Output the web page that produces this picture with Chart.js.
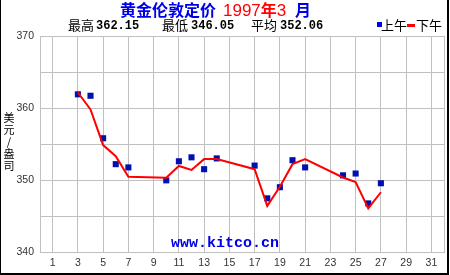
<!DOCTYPE html>
<html>
<head>
<meta charset="utf-8">
<script src="https://cdn.jsdelivr.net/npm/chart.js@4.4.0/dist/chart.umd.min.js"></script>
<style>
  body { margin: 0; background: #fff; }
  #wrap { position: relative; width: 450px; height: 275px; overflow: hidden; }
  #wrap canvas { position: absolute; left: 0; top: 0; }
  .t { position: absolute; white-space: nowrap; font-family: "Noto Sans CJK SC", sans-serif; }
  .num { font-family: "Liberation Mono", monospace; font-weight: bold; font-size: 12px; }
</style>
</head>
<body>
<div id="wrap">
  <canvas id="gold" width="450" height="275"></canvas>

  <div class="t" style="left:120px;top:0px;font-size:16px;line-height:18px;font-weight:bold;color:#0000e8">黄金伦敦定价</div>
  <div class="t" style="left:223px;top:0px;font-size:16px;line-height:18px;font-weight:bold;color:#ff0000"><span style="font-family:'Liberation Sans';font-weight:normal;font-size:17px">1997</span>年<span style="font-family:'Liberation Sans';font-weight:normal;font-size:17px">3</span></div>
  <div class="t" style="left:295px;top:0px;font-size:16px;line-height:18px;font-weight:bold;color:#0000e8">月</div>

  <div class="t" style="left:68px;top:17px;font-size:13px;line-height:16px">最高</div>
  <div class="t num" style="left:96px;top:18px;line-height:16px">362.15</div>
  <div class="t" style="left:162px;top:17px;font-size:13px;line-height:16px">最低</div>
  <div class="t num" style="left:191px;top:18px;line-height:16px">346.05</div>
  <div class="t" style="left:251px;top:17px;font-size:13px;line-height:16px">平均</div>
  <div class="t num" style="left:280px;top:18px;line-height:16px">352.06</div>

  <div style="position:absolute;left:377px;top:22px;width:5px;height:5px;background:#0000e8"></div>
  <div class="t" style="left:381px;top:17px;font-size:13px;line-height:16px">上午</div>
  <div style="position:absolute;left:407px;top:24px;width:8px;height:3px;background:#ff0000"></div>
  <div class="t" style="left:416px;top:17px;font-size:13px;line-height:16px">下午</div>

  <div class="t" style="left:2px;top:111px;width:14px;text-align:center;font-size:11px;line-height:12px">美<br>元<br>/<br>盎<br>司</div>

  <div class="t" style="left:171px;top:235px;font-family:'Liberation Mono',monospace;font-weight:bold;font-size:15px;line-height:18px;color:#0000e8">www.kitco.cn</div>
</div>

<script>
// trading days in March 1997
var days = [3, 4, 5, 6, 7, 10, 11, 12, 13, 14, 17, 18, 19, 20, 21, 24, 25, 26, 27];
// morning fix (blue squares)
var amFix = [361.9, 361.7, 355.8, 352.2, 351.75, 349.95, 352.6, 353.15, 351.5, 353.0,
             352.0, 347.45, 349.0, 352.75, 351.75, 350.65, 350.9, 346.75, 349.55];
// afternoon fix (red line)
var pmFix = [362.15, 359.8, 354.85, 353.3, 350.45, 350.3, 351.95, 351.4, 352.9, 352.9,
             351.5, 346.4, 349.05, 352.2, 352.9, 350.35, 349.7, 346.05, 348.3];
var xTicks = [1, 3, 5, 7, 9, 11, 13, 15, 17, 19, 21, 23, 25, 27, 29, 31];

function pts(vals) {
  return days.map(function (d, i) { return { x: d, y: vals[i] }; });
}

var frame = {
  id: 'frame',
  afterDraw: function (chart) {
    var ctx = chart.ctx;
    ctx.save();
    ctx.fillStyle = '#000';
    ctx.fillRect(0, 0, 1, 275);
    ctx.fillRect(447, 0, 2, 275);
    ctx.fillRect(0, 273, 449, 2);
    ctx.restore();
  }
};

var tickFont = { family: 'Liberation Sans', size: 10.5 };

new Chart(document.getElementById('gold'), {
  type: 'line',
  data: {
    datasets: [
      {
        label: '下午',
        data: pts(pmFix),
        borderColor: '#ff0000',
        borderWidth: 2,
        pointRadius: 0,
        tension: 0,
        fill: false,
        order: 0
      },
      {
        label: '上午',
        data: pts(amFix),
        showLine: false,
        pointStyle: 'rect',
        pointRadius: 4.3,
        pointBorderWidth: 0,
        backgroundColor: '#0010b0',
        borderColor: '#0010b0',
        order: 1
      }
    ]
  },
  options: {
    responsive: false,
    animation: false,
    layout: { padding: { top: 36, right: 6, left: 0, bottom: 0 } },
    plugins: { legend: { display: false }, tooltip: { enabled: false } },
    scales: {
      x: {
        type: 'linear',
        min: 0,
        max: 32,
        afterFit: function (s) { s.height = 23; },
        afterBuildTicks: function (s) {
          s.ticks = [{ value: 0 }].concat(xTicks.map(function (v) { return { value: v }; }), [{ value: 32 }]);
        },
        ticks: {
          autoSkip: false,
          maxRotation: 0,
          padding: 5,
          color: '#333',
          font: tickFont,
          callback: function (v) { return (v === 0 || v === 32) ? '' : v; }
        },
        grid: { color: '#c0c0c0', drawTicks: false },
        border: { color: '#c0c0c0' }
      },
      y: {
        min: 340,
        max: 370,
        afterFit: function (s) { s.width = 40; },
        ticks: {
          stepSize: 5,
          padding: 6,
          color: '#333',
          font: tickFont,
          callback: function (v) { return v % 10 === 0 ? v : ''; }
        },
        grid: { color: '#c0c0c0', drawTicks: false },
        border: { color: '#c0c0c0' }
      }
    }
  },
  plugins: [frame]
});
</script>
</body>
</html>
